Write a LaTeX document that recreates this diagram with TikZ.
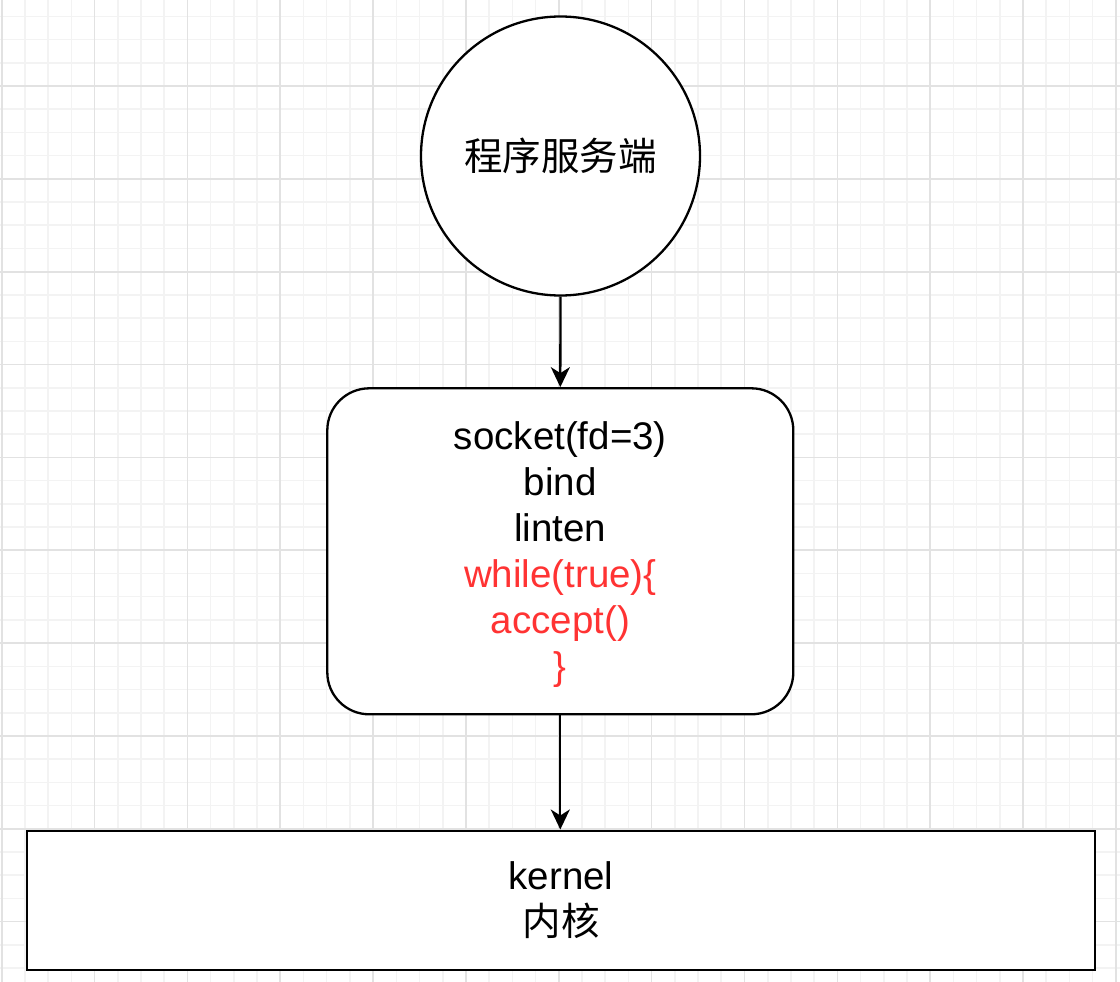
\documentclass[tikz,border=0pt]{standalone}
\usepackage{fontspec}
\setmainfont{Liberation Sans}
\newfontfamily\cjk{Noto Sans CJK SC}
\usetikzlibrary{arrows.meta}
\definecolor{gridminor}{RGB}{243,243,243}
\definecolor{gridmajor}{RGB}{226,226,226}
\definecolor{codered}{RGB}{255,51,51}
\tikzset{
  shapeline/.style={draw=black, line width=2.3pt, fill=white},
  arr/.style={line width=2.3pt, -{Stealth[length=20pt,width=19pt,inset=6pt]}},
  bigtext/.style={font=\fontsize{38.5}{46}\selectfont, align=center, inner sep=0pt},
}
\begin{document}
\begin{tikzpicture}[x=1pt,y=-1pt]
\useasboundingbox (0,0) rectangle (1120,982);
\fill[white] (0,0) rectangle (1120,982);
% grid
\foreach \k in {0,...,48}{
  \pgfmathsetmacro\xx{1.7+23.2125*\k}
  \draw[gridminor, line width=1.6pt] (\xx,0) -- (\xx,982);
}
\foreach \k in {-3,...,38}{
  \pgfmathsetmacro\yy{86+23.2125*\k}
  \draw[gridminor, line width=1.6pt] (0,\yy) -- (1120,\yy);
}
\foreach \k in {0,...,12}{
  \pgfmathsetmacro\xx{1.7+92.85*\k}
  \draw[gridmajor, line width=1.6pt] (\xx,0) -- (\xx,982);
}
\foreach \k in {0,...,9}{
  \pgfmathsetmacro\yy{86+92.85*\k}
  \draw[gridmajor, line width=1.6pt] (0,\yy) -- (1120,\yy);
}
% nodes
\node[shapeline, circle, minimum size=279pt, inner sep=0pt, bigtext] (srv) at (560.5,156) {\cjk 程序服务端};
\node[shapeline, rectangle, rounded corners=42pt, minimum width=466pt, minimum height=326pt, bigtext] (proc) at (560.3,551.3)
  {\rule{0pt}{34pt}socket(fd=3)\\bind\\linten\\\textcolor{codered}{while(true)\{}\\\textcolor{codered}{accept()}\\\textcolor{codered}{\}}};
\node[shapeline, rectangle, minimum width=1068pt, minimum height=139.3pt, bigtext] (kern) at (561,900.3)
  {kernel\\{\cjk 内核}};
% connectors
\draw[arr] (srv.south) -- (proc.north);
\draw[arr] (proc.south) -- (proc.south |- kern.north);
\end{tikzpicture}
\end{document}
